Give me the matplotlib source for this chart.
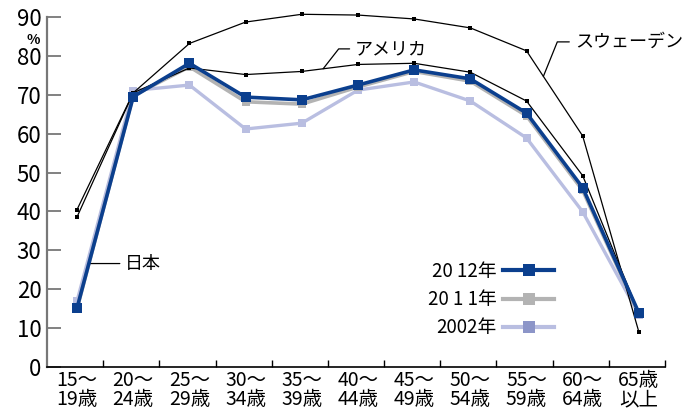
import numpy as np
import matplotlib
matplotlib.use("Agg")
import matplotlib.pyplot as plt
from matplotlib.lines import Line2D

plt.rcParams['font.family'] = ['Noto Sans CJK JP', 'DejaVu Sans']

# 年齢階級
ages = ["15～\n19歳", "20～\n24歳", "25～\n29歳", "30～\n34歳", "35～\n39歳",
        "40～\n44歳", "45～\n49歳", "50～\n54歳", "55～\n59歳", "60～\n64歳",
        "65歳\n以上"]

# 労働力率 (%)
sweden = [40.5, 70.5, 83.2, 88.7, 90.7, 90.5, 89.5, 87.2, 81.3, 59.4, 9.0]
usa = [38.6, 70.5, 76.9, 75.2, 76.0, 77.8, 78.1, 75.8, 68.4, 49.2, 13.9]
japan_2012 = [15.2, 69.5, 78.1, 69.4, 68.7, 72.5, 76.4, 74.1, 65.3, 46.1, 13.9]
japan_2011 = [15.0, 69.8, 77.2, 68.2, 67.6, 72.0, 76.0, 73.5, 64.6, 45.4, 13.6]
japan_2002 = [17.0, 71.1, 72.5, 61.2, 62.7, 71.2, 73.3, 68.4, 58.9, 39.9, 13.5]

legend_labels = ["20 12年", "20 1 1年", "2002年"]

c2012 = "#0b3f8e"
c2011 = "#b3b3b3"
c2002 = "#b9bee1"
c2002_mk = "#8c95c8"

x = np.arange(len(ages))

fig = plt.figure(figsize=(6.93, 4.08), dpi=100)
ax = fig.add_axes([47 / 693, 41 / 408, 618 / 693, 350 / 408])

ax.plot(x, japan_2002, color=c2002, lw=2.4, marker="s", ms=6, mew=0, clip_on=False, zorder=2)
ax.plot(x, japan_2011, color=c2011, lw=2.6, marker="s", ms=6, mew=0, clip_on=False, zorder=3)
ax.plot(x, usa, color="black", lw=0.9, marker="s", ms=3.2, mew=0, clip_on=False, zorder=4)
ax.plot(x, sweden, color="black", lw=0.9, marker="s", ms=3.2, mew=0, clip_on=False, zorder=4)
ax.plot(x, japan_2012, color=c2012, lw=2.6, marker="s", ms=6.8, mew=0, clip_on=False, zorder=5)

ax.set_xlim(-0.535, 10.465)
ax.set_ylim(0, 90)

# 軸
for s in ["top", "right"]:
    ax.spines[s].set_visible(False)
ax.spines["left"].set_color("#777777")
ax.spines["left"].set_linewidth(1.6)
ax.spines["left"].set_bounds(0, 90)
ax.spines["bottom"].set_color("black")
ax.spines["bottom"].set_linewidth(1.2)

ax.set_yticks(np.arange(0, 91, 10))
ax.tick_params(axis="y", direction="in", length=10, width=1.3, color="#777777",
               labelsize=16, pad=4)

ax.set_xticks(np.arange(0.5, len(ages) - 0.5 + 0.01, 1.0) - 0.035)
ax.set_xticklabels([])
ax.set_xticks(x, minor=True)
ax.set_xticklabels(ages, minor=True, fontsize=14, linespacing=0.9)
ax.tick_params(axis="x", which="major", direction="in", length=5, width=1, color="black")
ax.tick_params(axis="x", which="minor", length=0, pad=2)

fig.text(33 / 693, 1 - 40 / 408, "%", fontsize=10, fontweight="bold", ha="center", va="center")

# 国名ラベル
arrow = dict(arrowstyle="-", color="black", lw=0.9, shrinkA=2, shrinkB=0)
xs = 8.3
ax.annotate("スウェーデン", xy=(xs, np.interp(xs, x, sweden)), xytext=(8.86, 83.6),
            fontsize=13, ha="left", va="center",
            arrowprops=dict(arrow, connectionstyle="angle,angleA=0,angleB=68,rad=0"))
xu = 4.38
ax.annotate("アメリカ", xy=(xu, np.interp(xu, x, usa)), xytext=(4.95, 81.8),
            fontsize=13, ha="left", va="center",
            arrowprops=dict(arrow, connectionstyle="angle,angleA=0,angleB=52,rad=0"))
xj = 0.21
yj = np.interp(xj, x, japan_2012)
ax.annotate("日本", xy=(xj, yj), xytext=(0.86, yj), fontsize=13, ha="left", va="center",
            arrowprops=arrow)

handles = [
    Line2D([], [], color=c2012, lw=3, marker="s", ms=8.6, mew=0, mfc=c2012),
    Line2D([], [], color=c2011, lw=3, marker="s", ms=8.6, mew=0, mfc=c2011),
    Line2D([], [], color=c2002, lw=3, marker="s", ms=8.6, mew=0, mfc=c2002_mk),
]
ax.legend(handles, legend_labels, loc="upper left", bbox_to_anchor=(381 / 618, 106 / 350),
          frameon=False, markerfirst=False, handlelength=2.7, fontsize=13.5,
          labelspacing=0.38, handletextpad=0.35, borderpad=0, borderaxespad=0)

fig.savefig("out.png", dpi=100)
